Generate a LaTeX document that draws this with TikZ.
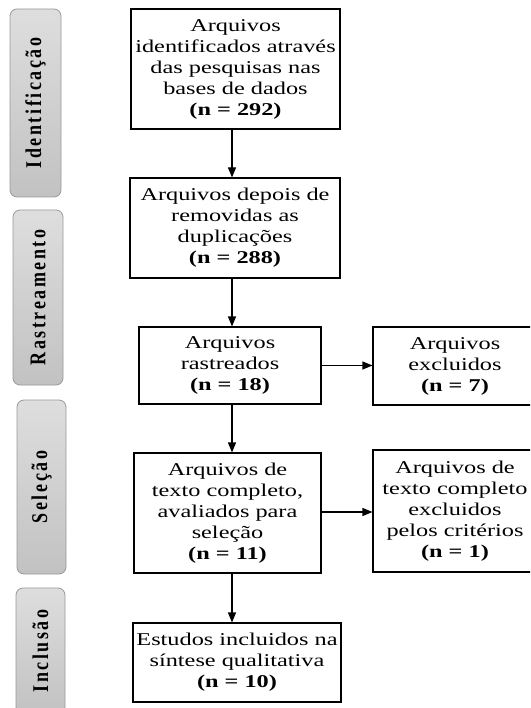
\documentclass[tikz,border=0pt]{standalone}
\usepackage{fontspec}
\setmainfont{Liberation Serif}
\newfontfamily\sidefont[LetterSpace=14]{Liberation Serif}
\usetikzlibrary{arrows.meta}
\newcommand{\boxtxt}[1]{\scalebox{1.35}[1]{\begin{tabular}{@{}c@{}}#1\end{tabular}}}
\newcommand{\sidetxt}[1]{\scalebox{1}[1.25]{\fontsize{18}{20}\sidefont\bfseries #1}}
\tikzset{
  mainbox/.style={draw=black, line width=1.1pt, inner sep=0pt, font=\fontsize{18}{21}\selectfont},
  sidebox/.style={draw=black!40, line width=0.8pt, rounded corners=7pt, top color=black!13, bottom color=black!24, inner sep=0pt},
  sidelabel/.style={rotate=90, inner sep=0pt},
  arr/.style={-{Triangle[length=10pt,width=8pt]}, line width=1.1pt}
}
\begin{document}
\begin{tikzpicture}[x=1pt,y=1pt]
\useasboundingbox (0,0) rectangle (530,-708);
\clip (0,0) rectangle (530,-708);
% side boxes
\node[sidebox, minimum width=51, minimum height=188] (s1) at (35.5,-103) {};
\node[sidelabel] (t1) at (s1) {\sidetxt{Identificação}};
\node[sidebox, minimum width=50, minimum height=175] (s2) at (38,-297.5) {};
\node[sidelabel] (t2) at (s2) {\sidetxt{Rastreamento}};
\node[sidebox, minimum width=49, minimum height=174] (s3) at (41.5,-487) {};
\node[sidelabel] (t3) at (s3) {\sidetxt{Seleção}};
\node[sidebox, minimum width=49, minimum height=126] (s4) at (40.5,-651) {};
\node[sidelabel] (t4) at (s4) {\sidetxt{Inclusão}};
% main boxes
\node[mainbox, minimum width=209, minimum height=120] (b1) at (235.5,-69)
  {\boxtxt{Arquivos\\identificados através\\das pesquisas nas\\bases de dados\\\textbf{(n = 292)}}};
\node[mainbox, minimum width=210, minimum height=100] (b2) at (235,-228)
  {\boxtxt{Arquivos depois de\\removidas as\\duplicações\\\textbf{(n = 288)}}};
\node[mainbox, minimum width=182, minimum height=77] (b3) at (230,-365.5)
  {\boxtxt{Arquivos\\rastreados\\\textbf{(n = 18)}}};
\node[mainbox, minimum width=164, minimum height=78] (e1) at (455,-366)
  {\boxtxt{Arquivos\\excluidos\\\textbf{(n = 7)}}};
\node[mainbox, minimum width=187, minimum height=120] (b4) at (227.5,-513)
  {\boxtxt{Arquivos de\\texto completo,\\avaliados para\\seleção\\\textbf{(n = 11)}}};
\node[mainbox, minimum width=164, minimum height=122] (e2) at (455,-511)
  {\boxtxt{Arquivos de\\texto completo\\excluidos\\pelos critérios\\\textbf{(n = 1)}}};
\node[mainbox, minimum width=208, minimum height=79] (b5) at (237,-662.5)
  {\boxtxt{Estudos incluidos na\\síntese qualitativa\\\textbf{(n = 10)}}};
% arrows
\coordinate (ax) at (232,0);
\draw[arr] (b1.south -| ax) -- (b2.north -| ax);
\draw[arr] (b2.south -| ax) -- (b3.north -| ax);
\draw[arr] (b3.south -| ax) -- (b4.north -| ax);
\draw[arr] (b4.south -| ax) -- (b5.north -| ax);
\draw[arr] (b3.east) -- (b3.east -| e1.west);
\coordinate (hy) at (0,-512);
\draw[arr] (b4.east |- hy) -- (e2.west |- hy);
\end{tikzpicture}
\end{document}
